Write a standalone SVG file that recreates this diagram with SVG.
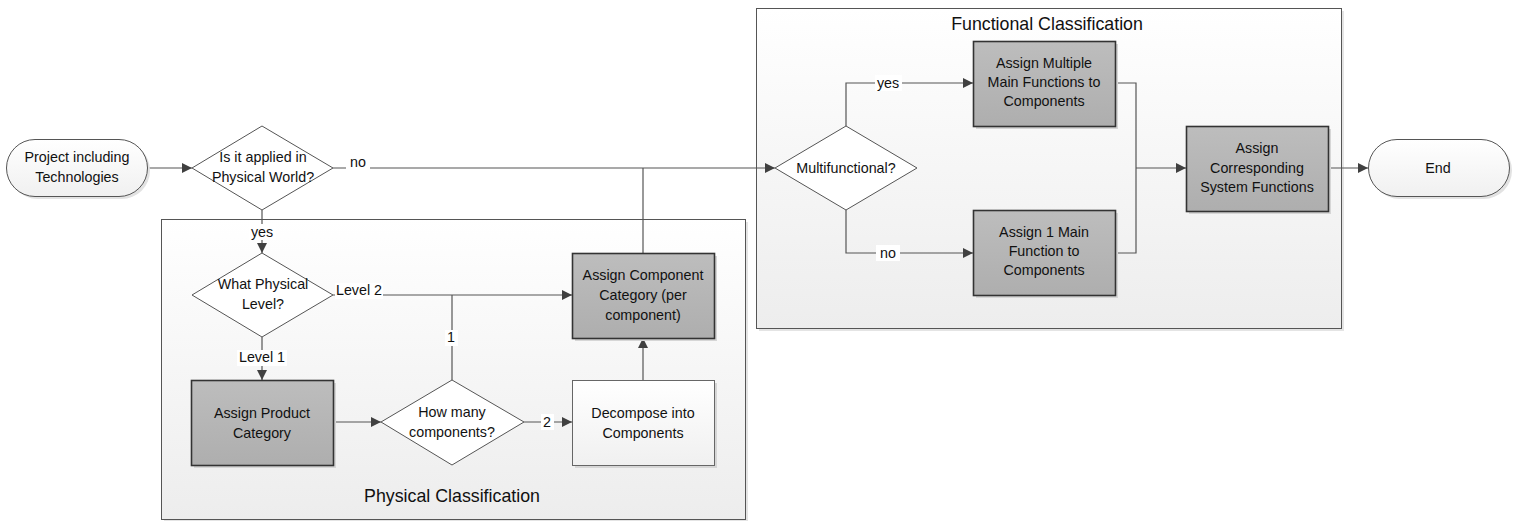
<svg xmlns="http://www.w3.org/2000/svg" width="1513" height="521" viewBox="0 0 1513 521">
  <defs>
    <linearGradient id="gContainer" x1="0" y1="0" x2="0" y2="1">
      <stop offset="0" stop-color="#ffffff"/>
      <stop offset="1" stop-color="#ededed"/>
    </linearGradient>
    <linearGradient id="gDark" x1="0" y1="0" x2="0" y2="1">
      <stop offset="0" stop-color="#bdbdbd"/>
      <stop offset="1" stop-color="#aeaeae"/>
    </linearGradient>
    <linearGradient id="gLight" x1="0" y1="0" x2="0" y2="1">
      <stop offset="0" stop-color="#ffffff"/>
      <stop offset="1" stop-color="#f0f0f0"/>
    </linearGradient>
    <marker id="arrow" viewBox="0 0 10 10" refX="10" refY="5" markerWidth="10" markerHeight="10" markerUnits="userSpaceOnUse" orient="auto">
      <path d="M0,0 L10,5 L0,10 z" fill="#404040"/>
    </marker>
  </defs>
  <style>
    text { font-family: "Liberation Sans", Arial, sans-serif; font-size: 14.3px; fill: #111; text-anchor: middle; }
    .title { font-size: 17.8px; }
    .container { fill: url(#gContainer); stroke: #555; stroke-width: 1; }
    .shadow { fill: #d6d6d6; }
    .dark { fill: url(#gDark); stroke: #333; stroke-width: 1.6; }
    .light { fill: url(#gLight); stroke: #666; stroke-width: 1; }
    .diamond { fill: #ffffff; stroke: #555; stroke-width: 1; }
    .term { fill: url(#gLight); stroke: #555; stroke-width: 1; }
    .conn { fill: none; stroke: #555; stroke-width: 1.2; }
    .lblbg { fill: #ffffff; }
  </style>

  <rect width="1513" height="521" fill="#ffffff"/>

  <!-- containers -->
  <g id="physical-classification">
    <rect x="164" y="222" width="584" height="300" fill="#e4e4e4"/>
    <rect class="container" x="161.5" y="219.5" width="584" height="300"/>
    <text class="title" x="452" y="502">Physical Classification</text>
  </g>
  <g id="functional-classification">
    <rect x="759" y="11" width="585" height="320" fill="#e4e4e4"/>
    <rect class="container" x="756.5" y="8.5" width="585" height="320"/>
    <text class="title" x="1047" y="30">Functional Classification</text>
  </g>

  <!-- connectors -->
  <g id="connectors">
    <path class="conn" d="M147,168 H192" marker-end="url(#arrow)"/>
    <path class="conn" d="M333,168 H775" marker-end="url(#arrow)"/>
    <path class="conn" d="M262,210 V253" marker-end="url(#arrow)"/>
    <path class="conn" d="M333,295 H572" marker-end="url(#arrow)"/>
    <path class="conn" d="M262,337 V380" marker-end="url(#arrow)"/>
    <path class="conn" d="M333,422 H381" marker-end="url(#arrow)"/>
    <path class="conn" d="M452,380 V295"/>
    <path class="conn" d="M524,422 H572" marker-end="url(#arrow)"/>
    <path class="conn" d="M643,380 V338" marker-end="url(#arrow)"/>
    <path class="conn" d="M643,253 V168"/>
    <path class="conn" d="M846,126 V83 H973" marker-end="url(#arrow)"/>
    <path class="conn" d="M846,210 V253 H973" marker-end="url(#arrow)"/>
    <path class="conn" d="M1115,83 H1136 V253 H1115"/>
    <path class="conn" d="M1136,168 H1186" marker-end="url(#arrow)"/>
    <path class="conn" d="M1328,168 H1368" marker-end="url(#arrow)"/>

    <!-- connector labels -->
    <rect class="lblbg" x="346" y="155" width="24" height="15"/>
    <text x="358" y="167">no</text>
    <rect class="lblbg" x="249" y="224" width="27" height="16"/>
    <text x="262" y="237">yes</text>
    <rect class="lblbg" x="335" y="283" width="48" height="16"/>
    <text x="359" y="295">Level 2</text>
    <rect class="lblbg" x="237" y="350" width="50" height="16"/>
    <text x="262" y="362">Level 1</text>
    <rect class="lblbg" x="445" y="330" width="13" height="16"/>
    <text x="451" y="342">1</text>
    <rect class="lblbg" x="541" y="414" width="13" height="16"/>
    <text x="547" y="427">2</text>
    <rect class="lblbg" x="875" y="75" width="27" height="16"/>
    <text x="888" y="88">yes</text>
    <rect class="lblbg" x="876" y="245" width="24" height="16"/>
    <text x="888" y="258">no</text>
  </g>

  <!-- nodes -->
  <g id="start">
    <rect x="9" y="142" width="141" height="57" rx="28.5" fill="#e2e2e2"/>
    <rect class="term" x="6.5" y="139.5" width="141" height="57" rx="28.5"/>
    <text x="77" y="162">Project including</text>
    <text x="77" y="182">Technologies</text>
  </g>

  <g id="physical-world">
    <polygon class="diamond" points="262,126 333,168 262,210 192,168"/>
    <text x="263" y="162">Is it applied in</text>
    <text x="263" y="182">Physical World?</text>
  </g>

  <g id="physical-level">
    <polygon class="diamond" points="262,253 333,295 262,337 192,295"/>
    <text x="263" y="289">What Physical</text>
    <text x="263" y="309">Level?</text>
  </g>

  <g id="product-category">
    <rect class="shadow" x="194" y="383" width="142" height="85"/>
    <rect class="dark" x="191.5" y="380.5" width="142" height="85"/>
    <text x="262" y="418">Assign Product</text>
    <text x="262" y="438">Category</text>
  </g>

  <g id="how-many">
    <polygon class="diamond" points="452,380 524,422 452,465 381,422"/>
    <text x="452" y="417">How many</text>
    <text x="452" y="437">components?</text>
  </g>

  <g id="decompose">
    <rect class="shadow" x="575" y="383" width="142" height="85"/>
    <rect class="light" x="572.5" y="380.5" width="142" height="85"/>
    <text x="643" y="418">Decompose into</text>
    <text x="643" y="438">Components</text>
  </g>

  <g id="component-category">
    <rect class="shadow" x="575" y="256" width="142" height="85"/>
    <rect class="dark" x="572.5" y="253.5" width="142" height="85"/>
    <text x="643" y="280">Assign Component</text>
    <text x="643" y="300">Category (per</text>
    <text x="643" y="320">component)</text>
  </g>

  <g id="multifunctional">
    <polygon class="diamond" points="846,126 917,168 846,210 775,168"/>
    <text x="846" y="173">Multifunctional?</text>
  </g>

  <g id="multiple-main-functions">
    <rect class="shadow" x="976" y="44" width="142" height="85"/>
    <rect class="dark" x="973.5" y="41.5" width="142" height="85"/>
    <text x="1044" y="68">Assign Multiple</text>
    <text x="1044" y="87">Main Functions to</text>
    <text x="1044" y="106">Components</text>
  </g>

  <g id="one-main-function">
    <rect class="shadow" x="976" y="213" width="142" height="85"/>
    <rect class="dark" x="973.5" y="210.5" width="142" height="85"/>
    <text x="1044" y="237">Assign 1 Main</text>
    <text x="1044" y="256">Function to</text>
    <text x="1044" y="275">Components</text>
  </g>

  <g id="system-functions">
    <rect class="shadow" x="1189" y="129" width="142" height="85"/>
    <rect class="dark" x="1186.5" y="126.5" width="142" height="85"/>
    <text x="1257" y="153">Assign</text>
    <text x="1257" y="173">Corresponding</text>
    <text x="1257" y="192">System Functions</text>
  </g>

  <g id="end">
    <rect x="1371" y="142" width="141" height="57" rx="28.5" fill="#e2e2e2"/>
    <rect class="term" x="1368.5" y="139.5" width="141" height="57" rx="28.5"/>
    <text x="1438" y="173">End</text>
  </g>
</svg>
